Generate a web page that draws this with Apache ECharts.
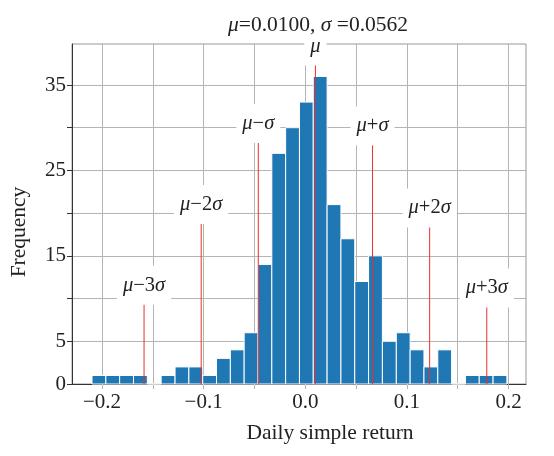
<!DOCTYPE html>
<html><head><meta charset="utf-8">
<script src="https://cdn.jsdelivr.net/npm/echarts@6/dist/echarts.min.js"></script>
<style>html,body{margin:0;padding:0;background:#fff}#c{width:554px;height:456px}</style>
</head><body><div id="c"></div>
<script>
// ---- data ----
const binEdges = [-0.2098,-0.1962,-0.1826,-0.1690,-0.1554,-0.1418,-0.1281,-0.1145,-0.1009,-0.0873,
  -0.0737,-0.0601,-0.0465,-0.0329,-0.0193,-0.0057,0.0079,0.0215,0.0351,0.0487,
  0.0623,0.0759,0.0896,0.1032,0.1168,0.1304,0.1440,0.1576,0.1712,0.1848,0.1984];
const counts = [1,1,1,1,0,1,2,2,1,3,4,6,14,27,30,33,36,21,17,12,15,5,6,4,2,4,0,1,1,1];
const mu = 0.0100;
const sigma = 0.0562;
const sigmaMultiples = [-3,-2,-1,0,1,2,3];
const lineHeights = [9.45,18.9,28.4,37.4,28.1,18.5,9.13];
const lineLabels = ['{i|μ}−3{i|σ}','{i|μ}−2{i|σ}','{i|μ}−{i|σ}','{i|μ}','{i|μ}+{i|σ}','{i|μ}+2{i|σ}','{i|μ}+3{i|σ}'];
const xTicks = [-0.2,-0.15,-0.1,-0.05,0,0.05,0.1,0.15,0.2];
const xTickLabels = [-0.2,-0.1,0,0.1,0.2];
const yTicks = [0,5,10,15,20,25,30,35];
const yTickLabels = [0,5,15,25,35];
const titleText = '{i|μ}=0.0100, {i|σ} =0.0562';
const xName = 'Daily simple return';
const yName = 'Frequency';

// ---- chart ----
const FONT = '"Liberation Serif", "DejaVu Serif", serif';
const TXT = '#222';
const GRIDC = '#b4b4b4';
const chart = echarts.init(document.getElementById('c'), null, {renderer: 'canvas'});
const has = (arr, v) => arr.some(a => Math.abs(a - v) < 1e-9);
const fmtX = v => has(xTickLabels, v) ? (Math.round(v*10)/10).toFixed(1).replace('-', '−') : '';
const fmtY = v => has(yTickLabels, v) ? String(v) : '';

const barData = counts.map((c, i) => [binEdges[i], binEdges[i+1], c]);
const lineData = sigmaMultiples.map((k, i) => [mu + k*sigma, lineHeights[i], i]);

chart.setOption({
  animation: false,
  backgroundColor: '#fff',
  title: {
    text: titleText,
    left: 318, top: 14, textAlign: 'center', padding: 0,
    textStyle: {fontFamily: FONT, fontSize: 21.5, fontWeight: 'normal', color: TXT,
      rich: {i: {fontFamily: FONT, fontSize: 21.5, fontStyle: 'italic', color: TXT}}}
  },
  grid: {left: 69, right: 28, top: 44, bottom: 72, show: true, borderColor: '#999', borderWidth: 1},
  xAxis: {
    type: 'value', min: -0.2295, max: 0.2172,
    name: xName, nameLocation: 'middle', nameGap: 38,
    nameTextStyle: {fontFamily: FONT, fontSize: 21.5, color: TXT, padding: [0,0,0,62]},
    axisLine: {show: true, onZero: false, lineStyle: {color: '#333', width: 1}},
    axisTick: {show: true, length: 5, customValues: xTicks, lineStyle: {color: GRIDC}},
    axisLabel: {customValues: xTicks, formatter: fmtX, fontFamily: FONT, fontSize: 21, color: TXT, margin: 8},
    splitLine: {show: true, lineStyle: {color: GRIDC, width: 1}}
  },
  yAxis: {
    type: 'value', min: 0, max: 39.8,
    name: yName, nameLocation: 'middle', nameGap: 42,
    nameTextStyle: {fontFamily: FONT, fontSize: 21.5, color: TXT, padding: [0,36,0,0]},
    axisLine: {show: true, onZero: false, lineStyle: {color: '#333', width: 1}},
    axisTick: {show: true, length: 5, customValues: yTicks, lineStyle: {color: '#333'}},
    axisLabel: {customValues: yTicks, formatter: fmtY, fontFamily: FONT, fontSize: 21, color: TXT, margin: 6},
    splitLine: {show: true, lineStyle: {color: GRIDC, width: 1}}
  },
  series: [
    {
      type: 'custom', name: 'hist', data: barData, encode: {x: [0,1], y: 2}, z: 2,
      renderItem: (params, api) => {
        const p0 = api.coord([api.value(0), api.value(2)]);
        const p1 = api.coord([api.value(1), 0]);
        return {type: 'rect', shape: {x: p0[0], y: p0[1], width: p1[0]-p0[0], height: p1[1]-p0[1]},
          style: {fill: '#1f77b4', stroke: '#ffffff', lineWidth: 1}};
      }
    },
    {
      type: 'custom', name: 'sigmaLines', data: lineData, encode: {x: 0, y: 1}, z: 3, clip: false,
      renderItem: (params, api) => {
        const x = api.value(0), h = api.value(1), idx = api.value(2);
        const b = api.coord([x, 0]);
        const t = api.coord([x, h]);
        return {type: 'group', children: [
          {type: 'line', shape: {x1: b[0], y1: b[1], x2: t[0], y2: t[1]},
            style: {stroke: '#e8312a', lineWidth: 1}},
          {type: 'text', z2: 10, style: {
            text: lineLabels[idx], x: t[0], y: t[1] - 18, align: 'center', verticalAlign: 'middle',
            fontFamily: FONT, fontSize: 20.5, fill: TXT, backgroundColor: '#fff', padding: [9, 6],
            rich: {i: {fontFamily: FONT, fontSize: 20.5, fontStyle: 'italic', fill: TXT}}
          }}
        ]};
      }
    }
  ]
});
</script></body></html>
